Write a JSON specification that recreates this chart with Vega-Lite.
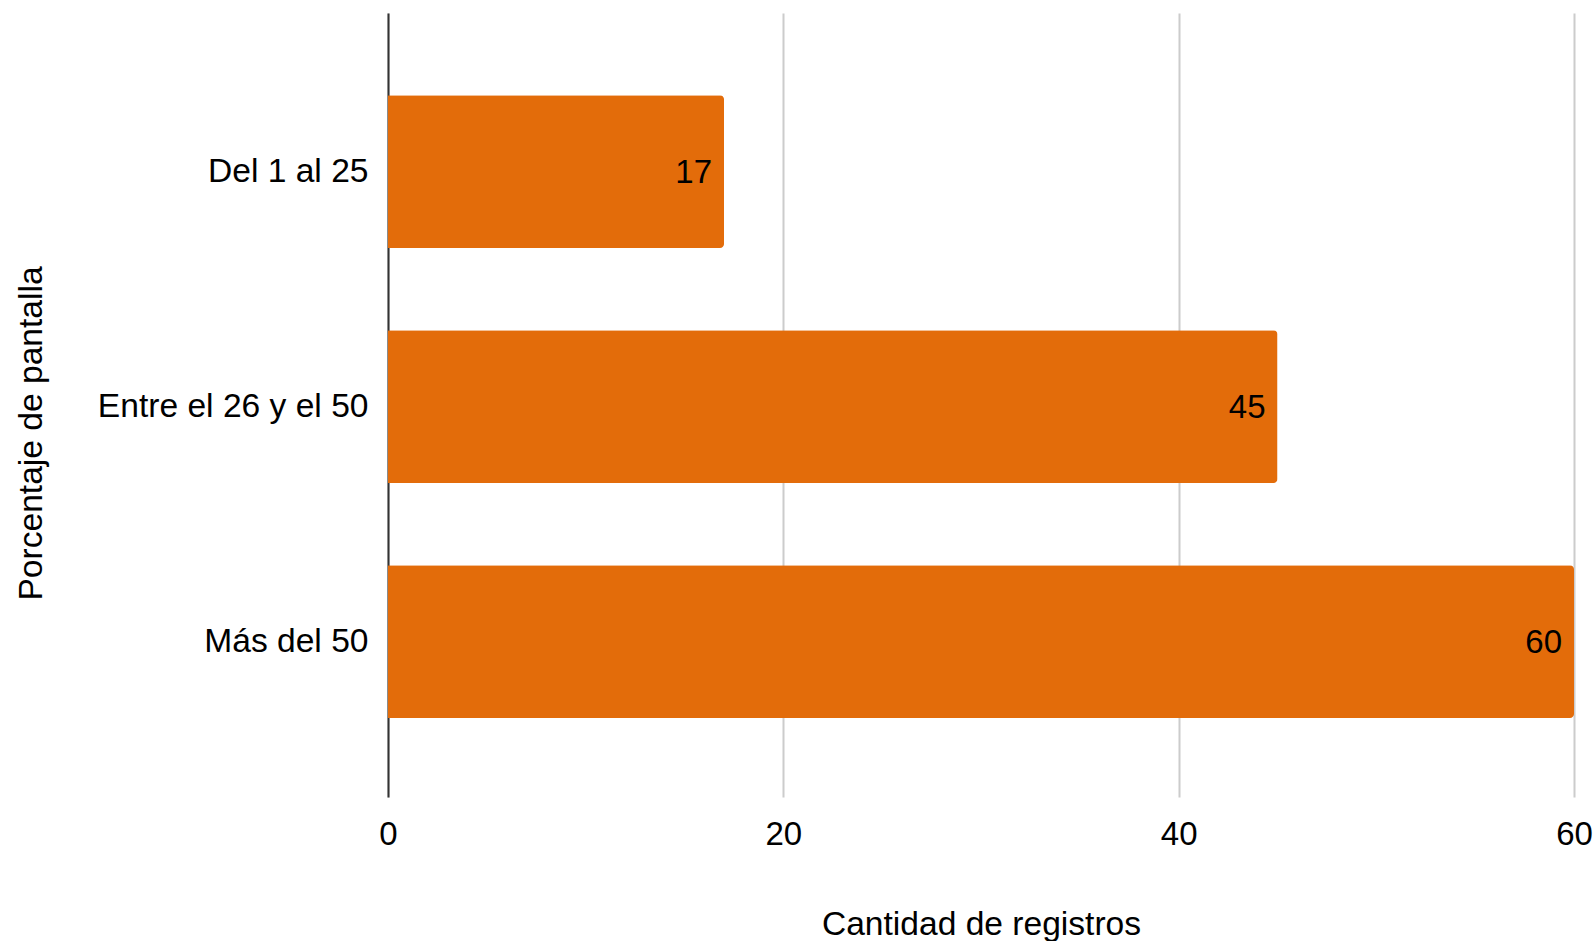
{
  "$schema": "https://vega.github.io/schema/vega-lite/v6.json",
  "autosize": {"type": "none"},
  "padding": {"left": 388, "top": 13, "right": 21, "bottom": 144},
  "width": 1186,
  "height": 784,
  "background": "white",
  "data": {
    "values": [
      {"categoria": "Del 1 al 25", "registros": 17},
      {"categoria": "Entre el 26 y el 50", "registros": 45},
      {"categoria": "Más del 50", "registros": 60}
    ]
  },
  "encoding": {
    "y": {
      "field": "categoria",
      "type": "nominal",
      "sort": null,
      "scale": {"paddingInner": 0.35, "paddingOuter": 0.343, "align": 0.51},
      "axis": {
        "title": "Porcentaje de pantalla",
        "ticks": false,
        "domain": true,
        "domainColor": "#333333",
        "domainWidth": 2,
        "labelPadding": 20,
        "labelLimit": 0,
        "labelFont": "Liberation Sans",
        "labelFontSize": 33.6,
        "labelColor": "#000000",
        "labelFontWeight": "normal",
        "titleFont": "Liberation Sans",
        "titleFontSize": 33.6,
        "titleFontWeight": "normal",
        "titleColor": "#000000",
        "titleX": -340,
        "titleY": 420
      }
    },
    "x": {
      "field": "registros",
      "type": "quantitative",
      "scale": {"domain": [0, 60], "nice": false},
      "axis": {
        "title": "Cantidad de registros",
        "values": [0, 20, 40, 60],
        "ticks": false,
        "domain": false,
        "grid": true,
        "gridColor": "#cccccc",
        "gridWidth": 2,
        "labelPadding": 21,
        "labelFont": "Liberation Sans",
        "labelFontSize": 33,
        "labelColor": "#000000",
        "labelFlush": false,
        "titleFont": "Liberation Sans",
        "titleFontSize": 33.6,
        "titleFontWeight": "normal",
        "titleColor": "#000000",
        "titleY": 110
      }
    }
  },
  "layer": [
    {
      "mark": {"type": "bar", "color": "#e36c0a", "cornerRadiusEnd": 4}
    },
    {
      "mark": {
        "type": "text",
        "align": "right",
        "baseline": "middle",
        "dx": -12,
        "dy": 1,
        "font": "Liberation Sans",
        "fontSize": 33,
        "color": "#000000"
      },
      "encoding": {"text": {"field": "registros", "type": "quantitative"}}
    }
  ],
  "config": {"view": {"stroke": null}}
}
